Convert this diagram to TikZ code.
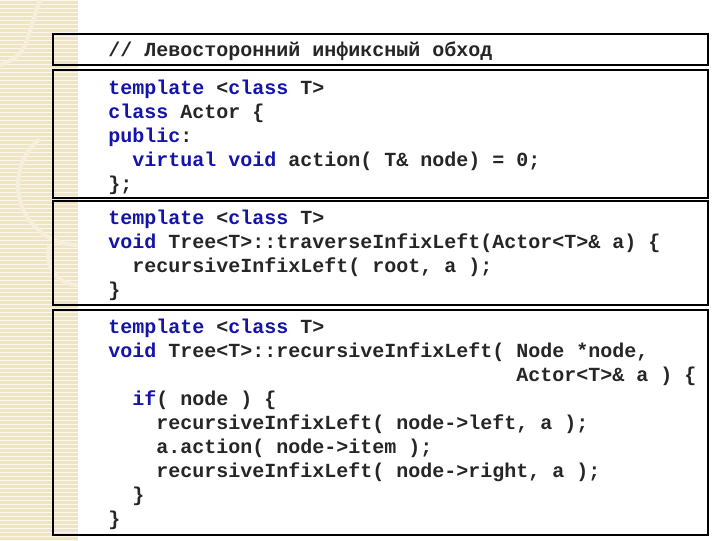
\documentclass[tikz,border=0pt]{standalone}
\usepackage{fontspec}
\setmonofont{Liberation Mono}
\begin{document}
\begin{tikzpicture}[x=0.75pt,y=-0.75pt,
  ln/.style={anchor=base west,inner sep=0pt,font=\ttfamily\bfseries\fontsize{15pt}{18pt}\selectfont,text=black!85},
  bx/.style={draw=black,line width=0.9pt}]
\definecolor{kw}{RGB}{20,20,170}
\definecolor{strip}{RGB}{240,228,196}
\newcommand{\kw}[1]{\textcolor{kw}{#1}}
\useasboundingbox (0,0) rectangle (720,540);
\fill[white] (0,0) rectangle (720,540);
\fill[strip] (0,0) rectangle (78,540);
\foreach \i in {0,4,...,540} \draw[white!70!strip,line width=0.4pt] (0,\i) -- (78,\i);
\draw[white!40!strip,line width=3pt] (40,0) .. controls (25,40) and (30,55) .. (0,65);
\draw[white!40!strip,line width=3pt] (78,245) arc (90:230:60);
\draw[white!40!strip,line width=3pt] (78,285) arc (90:200:30);
\draw[bx] (53,34) rectangle (708,65);
\draw[bx] (53,70) rectangle (708,198);
\draw[bx] (53,201) rectangle (708,305);
\draw[bx] (53,310) rectangle (708,535);
\node[ln] (h) at (108,56) {// Левосторонний инфиксный обход};
\node[ln] (a1) at (108,94) {\kw{template} <\kw{class} T>};
\node[ln] (a2) at (108,118) {\kw{class} Actor \{};
\node[ln] (a3) at (108,142) {\kw{public}:};
\node[ln] (a4) at (108,166) {\ \ \kw{virtual} \kw{void} action( T\& node) = 0;};
\node[ln] (a5) at (108,190) {\};};
\node[ln] (b1) at (108,224) {\kw{template} <\kw{class} T>};
\node[ln] (b2) at (108,248) {\kw{void} Tree<T>::traverseInfixLeft(Actor<T>\& a) \{};
\node[ln] (b3) at (108,272) {\ \ recursiveInfixLeft( root, a );};
\node[ln] (b4) at (108,296) {\}};
\node[ln] (c1) at (108,333) {\kw{template} <\kw{class} T>};
\node[ln] (c2) at (108,357) {\kw{void} Tree<T>::recursiveInfixLeft( Node *node,};
\node[ln] (c3) at (516,381) {Actor<T>\& a ) \{};
\node[ln] (c4) at (108,405) {\ \ \kw{if}( node ) \{};
\node[ln] (c5) at (108,429) {\ \ \ \ recursiveInfixLeft( node->left, a );};
\node[ln] (c6) at (108,453) {\ \ \ \ a.action( node->item );};
\node[ln] (c7) at (108,477) {\ \ \ \ recursiveInfixLeft( node->right, a );};
\node[ln] (c8) at (108,501) {\ \ \}};
\node[ln] (c9) at (108,525) {\}};
\end{tikzpicture}
\end{document}
